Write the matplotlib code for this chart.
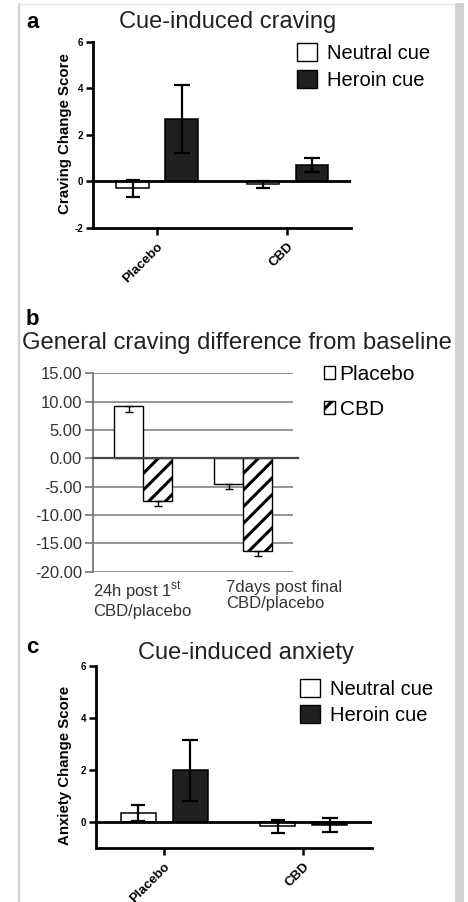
import matplotlib
matplotlib.use("Agg")
import matplotlib.pyplot as plt
from matplotlib.patches import Patch, Rectangle
from matplotlib.lines import Line2D
import numpy as np

plt.rcParams['font.family'] = ['Liberation Sans', 'DejaVu Sans']
plt.rcParams['hatch.linewidth'] = 2.2

# panel a: cue-induced craving
groups = ["Placebo", "CBD"]
crave_neutral = [-0.30, -0.12]
crave_neutral_err = [0.35, 0.15]
crave_heroin = [2.68, 0.72]
crave_heroin_err = [1.45, 0.30]

# panel b: general craving vs baseline
timepoints = ["24h post 1$^{\\mathregular{st}}$\nCBD/placebo", "7days post final\nCBD/placebo"]
general_placebo = [9.15, -4.5]
general_placebo_err = [0.9, 0.9]
general_cbd = [-7.5, -16.4]
general_cbd_err = [0.95, 0.8]

# panel c: cue-induced anxiety
anx_neutral = [0.35, -0.15]
anx_neutral_err = [0.32, 0.25]
anx_heroin = [2.0, -0.10]
anx_heroin_err = [1.17, 0.28]

W, H = 468, 902
fig = plt.figure(figsize=(W / 100, H / 100), dpi=100)


def rect(l, t, r, b):
    return [l / W, 1 - b / H, (r - l) / W, (b - t) / H]


def px(x, y):
    return x / W, 1 - y / H


# page frame
fig.add_artist(Line2D([19 / W, 19 / W], [0, 1 - 4 / H], color='#cfcfcf', lw=1.6))
fig.add_artist(Line2D([19 / W, 455 / W], [1 - 4 / H, 1 - 4 / H], color='#e4e4e4', lw=1.0))
fig.add_artist(Rectangle((455 / W, 0), 9 / W, 1 - 3 / H, color='#d2d2d2', lw=0))


def cue_panel(box, neutral, neutral_err, heroin, heroin_err, ylim, yticks, ylabel):
    ax = fig.add_axes(rect(*box))
    x = np.arange(len(groups))
    w = 0.25
    ax.bar(x - 0.185, neutral, w, color='white', edgecolor='black', lw=1.1, zorder=2)
    ax.bar(x + 0.19, heroin, w, color='#202020', edgecolor='black', lw=1.1, zorder=2)
    ax.errorbar(x - 0.185, neutral, yerr=neutral_err, fmt='none', ecolor='black',
                elinewidth=1.6, capsize=5, capthick=1.6, zorder=4)
    ax.errorbar(x + 0.19, heroin, yerr=heroin_err, fmt='none', ecolor='black',
                elinewidth=1.6, capsize=6, capthick=1.6, zorder=4)
    ax.axhline(0, color='black', lw=2, zorder=3)
    ax.set_xlim(-0.49, 1.49)
    ax.set_ylim(*ylim)
    ax.set_yticks(yticks)
    ax.set_yticklabels([str(t) for t in yticks], fontsize=7, fontweight='bold')
    ax.set_xticks(x)
    ax.set_xticklabels(groups, fontsize=9.5, fontweight='bold', rotation=45,
                       ha='right', va='top', rotation_mode='anchor')
    ax.tick_params(axis='both', width=1.8, length=5, pad=2)
    ax.tick_params(axis='x', pad=4)
    for s in ('top', 'right'):
        ax.spines[s].set_visible(False)
    for s in ('left', 'bottom'):
        ax.spines[s].set_linewidth(2)
    ax.set_ylabel(ylabel, fontsize=10.8, fontweight='bold')
    handles = [Patch(facecolor='white', edgecolor='black', lw=1.0),
               Patch(facecolor='#202020', edgecolor='black', lw=1.0)]
    return ax, handles


# ---- a ----
ax_a, hand = cue_panel((93, 42, 351, 228), crave_neutral, crave_neutral_err,
                       crave_heroin, crave_heroin_err, (-2, 6), [-2, 0, 2, 4, 6],
                       "Craving Change Score")
ax_a.yaxis.set_label_coords(-21 / 258, 0.51)
ax_a.legend(hand, ["Neutral cue", "Heroin cue"], loc='upper left',
            bbox_to_anchor=px(297, 43), bbox_transform=fig.transFigure,
            frameon=False, fontsize=14.5, handlelength=1.0, handleheight=1.0,
            handletextpad=0.5, labelspacing=0.35, borderpad=0, borderaxespad=0)
fig.text(*px(26, 28), "a", fontsize=16, fontweight='bold', va='baseline')
fig.text(*px(228, 28), "Cue-induced craving", fontsize=17, ha='center', va='baseline',
         color='#222222')

# ---- b ----
ax_b = fig.add_axes(rect(93, 373.3, 293, 571.7))
xb = np.arange(len(timepoints))
bw = 0.29
ax_b.bar(xb - bw / 2, general_placebo, bw, color='white', edgecolor='black', lw=1.0, zorder=2)
ax_b.bar(xb + bw / 2, general_cbd, bw, color='white', edgecolor='black', lw=1.0,
         hatch='//', zorder=2)
ax_b.errorbar(xb - bw / 2, general_placebo, yerr=[general_placebo_err, [0, 0]], fmt='none',
              ecolor='black', elinewidth=1.0, capsize=3, capthick=1.0, zorder=4)
ax_b.errorbar(xb + bw / 2, general_cbd, yerr=[general_cbd_err, [0, 0]], fmt='none',
              ecolor='black', elinewidth=1.0, capsize=3, capthick=1.0, zorder=4)
ax_b.set_xlim(-0.5, 1.5)
ax_b.set_ylim(-20, 15)
yt = np.arange(-20, 16, 5)
ax_b.set_yticks(yt)
ax_b.set_yticklabels(["%.2f" % v for v in yt], fontsize=12, color='#333333')
ax_b.yaxis.grid(True, color='#8c8c8c', lw=1.3)
ax_b.set_axisbelow(True)
ax_b.axhline(0, xmax=1.025, color='#444444', lw=1.6, zorder=3, clip_on=False)
ax_b.tick_params(axis='y', color='#777777', width=1.2, length=6, pad=2)
ax_b.set_xticks([])
for s in ('top', 'right', 'bottom'):
    ax_b.spines[s].set_visible(False)
ax_b.spines['left'].set_color('#777777')
ax_b.spines['left'].set_linewidth(1.3)
label_x = [-0.5, 0.835]
for lx, lab in zip(label_x, timepoints):
    ax_b.annotate(lab, xy=(lx, 0), xycoords=('data', 'axes fraction'),
                  xytext=(0, -6), textcoords='offset points', ha='left', va='top',
                  fontsize=12, color='#333333', linespacing=1.05)
ax_b.legend([Patch(facecolor='white', edgecolor='black', lw=1.0),
             Patch(facecolor='white', edgecolor='black', lw=1.0, hatch='//')],
            ["Placebo", "CBD"], loc='upper left',
            bbox_to_anchor=px(324, 365), bbox_transform=fig.transFigure,
            frameon=False, fontsize=15, handlelength=0.55, handleheight=0.55,
            handletextpad=0.2, labelspacing=0.75, borderpad=0, borderaxespad=0)
fig.text(*px(26, 325), "b", fontsize=16, fontweight='bold', va='baseline')
fig.text(*px(22, 349.3), "General craving difference from baseline", fontsize=17.2,
         ha='left', va='baseline', color='#222222')

# ---- c ----
ax_c, hand = cue_panel((95.7, 665.7, 371.7, 848.3), anx_neutral, anx_neutral_err,
                       anx_heroin, anx_heroin_err, (-1, 6), [0, 2, 4, 6],
                       "Anxiety Change Score")
ax_c.yaxis.set_label_coords(-24 / 276, 0.456)
ax_c.legend(hand, ["Neutral cue", "Heroin cue"], loc='upper left',
            bbox_to_anchor=px(300, 679), bbox_transform=fig.transFigure,
            frameon=False, fontsize=14.5, handlelength=1.0, handleheight=1.0,
            handletextpad=0.5, labelspacing=0.3, borderpad=0, borderaxespad=0)
fig.text(*px(26, 653), "c", fontsize=16, fontweight='bold', va='baseline')
fig.text(*px(246, 659.3), "Cue-induced anxiety", fontsize=17, ha='center', va='baseline',
         color='#222222')

fig.savefig("out.png", dpi=100)
